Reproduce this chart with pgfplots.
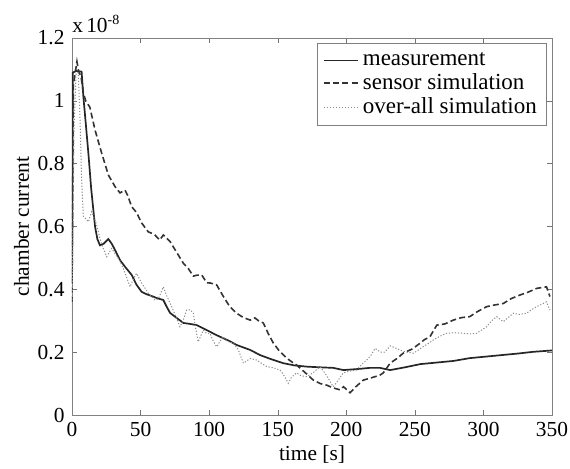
\documentclass[border=0pt]{standalone}
\usepackage{fontspec}
\setmainfont{Liberation Serif}
\usepackage{pgfplots}
\pgfplotsset{compat=1.18}
\begin{document}
\fontsize{10.7}{12.5}\selectfont
\begin{tikzpicture}
\begin{axis}[name=ax, at={(0,0)}, anchor=south west, scale only axis, width=240pt, height=188.5pt,
  xmin=0, xmax=350, ymin=0, ymax=1.2,
  xtick={0,50,100,150,200,250,300,350}, xticklabels={0,50,100,150,200,250,300,350},
  ytick={0,0.2,0.4,0.6,0.8,1,1.2}, yticklabels={0,0.2,0.4,0.6,0.8,1,1.2},
  xlabel={time [s]}, ylabel={chamber current},
  xlabel style={yshift=3pt}, ylabel style={yshift=-3pt},
  tick align=inside, major tick length=2.5pt, tick style={black!55},
  axis line style={black!50},
  tick label style={font=\fontsize{10.7}{12.5}\selectfont},
  label style={font=\fontsize{10.7}{12.5}\selectfont},
  legend style={font=\fontsize{11.5}{13}\selectfont, draw=black!50, at={(0.990,0.987)}, anchor=north east, row sep=-1.5pt, inner xsep=3pt, inner ysep=2.5pt},
  legend cell align=left,
  legend image code/.code={\draw[#1] (0cm,0cm) -- (17pt,0cm);}]
\addplot[black!85, line width=0.85pt, no marks] coordinates {(0,0.42) (0.6,1.09) (3,1.095) (7,1.093) (8.3,1.013) (10,0.93) (12,0.83) (14,0.72) (16.8,0.60) (18.5,0.56) (20.4,0.54) (23,0.545) (26.5,0.56) (29,0.545) (32,0.52) (35,0.493) (39,0.47) (43.5,0.446) (47,0.415) (50.8,0.392) (54,0.385) (58,0.379) (62,0.372) (66.6,0.366) (69,0.345) (71.5,0.325) (76,0.31) (81.2,0.293) (86,0.29) (91,0.286) (96,0.275) (100.6,0.265) (105,0.255) (110,0.245) (115,0.235) (120,0.223) (125,0.215) (130,0.207) (137,0.191) (145,0.178) (154,0.165) (162,0.158) (171,0.154) (180,0.152) (190.5,0.150) (198,0.143) (210,0.147) (217,0.150) (224.6,0.150) (232,0.143) (243,0.152) (254,0.162) (266,0.167) (278,0.172) (290,0.181) (302,0.186) (314,0.191) (326,0.196) (336,0.201) (348.5,0.205) (350,0.205)};
\addlegendentry{measurement}
\addplot[black!80, line width=0.8pt, dash pattern=on 3pt off 1.6pt, no marks] coordinates {(0,0.36) (1,1.05) (3.6,1.125) (5,1.09) (6.5,1.08) (8.3,1.025) (10,1.0) (13,0.98) (16.8,0.907) (21.6,0.834) (26.5,0.764) (31.4,0.727) (35,0.707) (38.6,0.716) (40.5,0.70) (43.5,0.663) (47,0.645) (50.8,0.611) (55.6,0.583) (60,0.575) (64,0.557) (66.6,0.573) (68.5,0.565) (71.5,0.552) (76,0.52) (81.2,0.483) (85,0.465) (88.4,0.442) (91,0.445) (94.6,0.446) (98.2,0.421) (101,0.42) (105.5,0.414) (110,0.38) (115,0.345) (120,0.324) (125,0.31) (130,0.302) (133.4,0.309) (136,0.3) (139.5,0.293) (143,0.26) (146.8,0.229) (151,0.205) (156.5,0.181) (160,0.17) (163.8,0.159) (170,0.135) (176,0.111) (181,0.1) (185.7,0.095) (190,0.087) (195.4,0.080) (198,0.09) (202.7,0.071) (207,0.09) (212.4,0.111) (218,0.118) (224.6,0.127) (227,0.134) (232,0.165) (237,0.18) (241.6,0.197) (248,0.21) (254,0.229) (257,0.24) (261,0.249) (266,0.286) (272,0.29) (278,0.302) (284,0.31) (290,0.313) (296,0.33) (302.4,0.345) (308,0.35) (314.5,0.355) (320,0.37) (326.7,0.382) (332,0.39) (338.8,0.403) (346,0.408) (348.5,0.377)};
\addlegendentry{sensor simulation}
\addplot[black!45, line width=0.5pt, dash pattern=on 0.6pt off 0.9pt, no marks] coordinates {(0,0.3) (1.5,0.92) (3,1.088) (4.5,1.09) (5.8,0.95) (7,0.75) (8.3,0.631) (10,0.625) (12,0.615) (14.3,0.647) (16,0.63) (18,0.605) (20.5,0.56) (22.8,0.53) (25.3,0.504) (28.9,0.53) (32,0.51) (35,0.49) (38,0.46) (42.3,0.408) (44.5,0.43) (47,0.451) (50.8,0.42) (55.6,0.388) (60.5,0.366) (63,0.37) (66.6,0.408) (69,0.38) (72.7,0.345) (76,0.31) (78.7,0.281) (81,0.3) (83.6,0.334) (86,0.335) (88.4,0.325) (90,0.28) (92,0.233) (95.7,0.27) (98,0.26) (100.6,0.26) (103,0.235) (105.5,0.217) (110,0.249) (113,0.235) (117.6,0.229) (121,0.21) (125,0.165) (130,0.18) (134.7,0.175) (138,0.165) (142,0.154) (147,0.15) (151.7,0.143) (154,0.13) (157.7,0.101) (160,0.12) (163.8,0.134) (167,0.125) (171,0.122) (176,0.135) (180.8,0.154) (185,0.13) (190.5,0.09) (194,0.11) (197.8,0.134) (203,0.14) (207.6,0.143) (211,0.16) (214.9,0.175) (218,0.19) (221,0.212) (225,0.2) (228,0.2) (232,0.22) (235,0.215) (239,0.207) (244,0.2) (249,0.197) (252,0.205) (256,0.217) (260,0.228) (263.5,0.239) (268,0.25) (273,0.26) (279,0.262) (285,0.26) (290,0.258) (295,0.26) (302.4,0.281) (306,0.3) (309.7,0.313) (314.5,0.297) (318,0.31) (321.8,0.324) (326,0.32) (331.5,0.324) (335,0.335) (338.8,0.345) (343.7,0.355) (346,0.36) (348.5,0.334)};
\addlegendentry{over-all simulation}
\end{axis}
\node[anchor=base west, inner sep=0pt, font=\fontsize{10.7}{12.5}\selectfont] at ([yshift=3pt]ax.north west) {x\hspace{0.15em}10\raisebox{0.75ex}{\fontsize{7}{8}\selectfont -8}};
\pgfresetboundingbox
\path[use as bounding box] (-36pt,-26.5pt) rectangle (249pt,207.5pt);
\end{tikzpicture}
\end{document}
